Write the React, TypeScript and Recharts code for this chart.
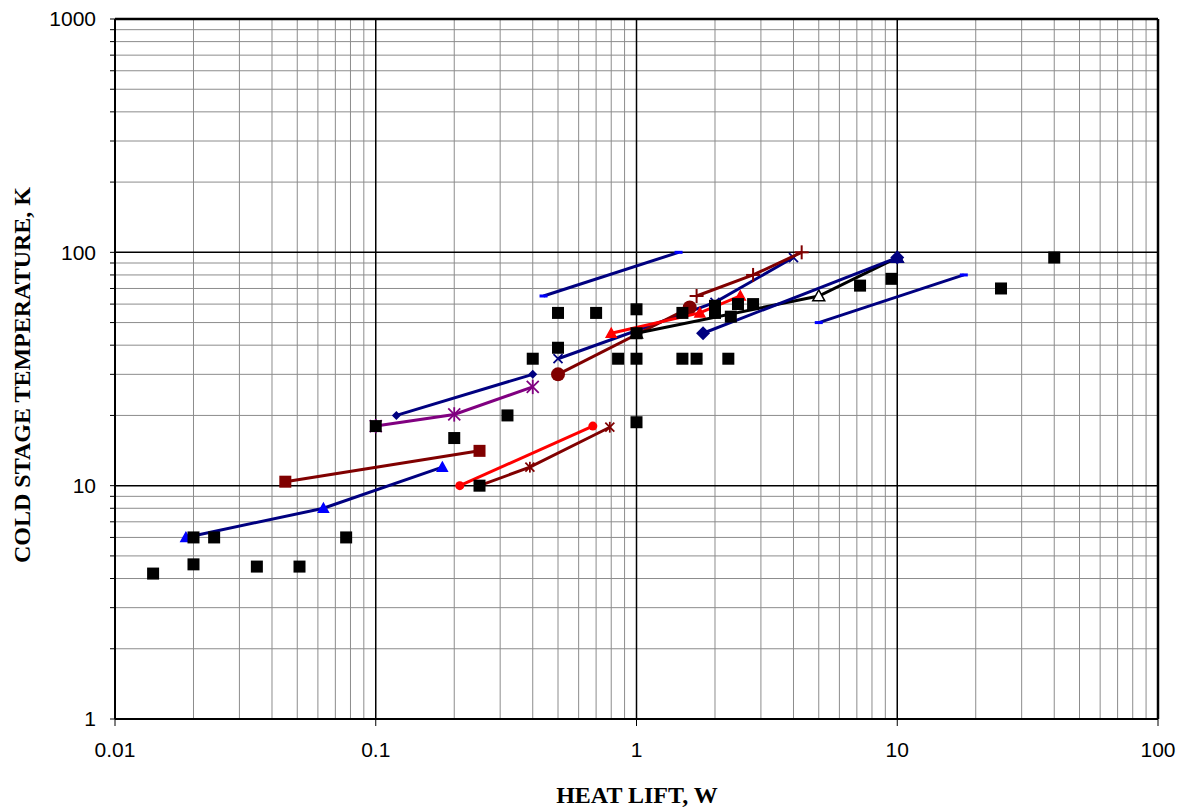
import React from 'react'
import { ScatterChart, Scatter, XAxis, YAxis, ReferenceLine } from 'recharts'

// heat lift (W) vs cold stage temperature (K)
const blackSquares = [
  [0.014, 4.2], [0.02, 6], [0.02, 4.6], [0.024, 6], [0.035, 4.5], [0.051, 4.5],
  [0.077, 6], [0.1, 18], [0.2, 16], [0.32, 20], [0.25, 10], [0.4, 35], [0.5, 55],
  [0.5, 39], [0.7, 55], [0.85, 35], [1, 57], [1, 45], [1, 35], [1, 18.7],
  [1.5, 55], [1.5, 35], [1.7, 35], [2.25, 35], [2, 59], [2, 55], [2.3, 53],
  [2.45, 60], [2.8, 60], [7.2, 72], [9.5, 77], [25, 70], [40, 95],
]
const navyDashA = [[0.44, 65], [1.45, 100]]
const navyDashB = [[5, 50], [18, 80]]
const blueTriangles = [[0.0187, 6], [0.063, 8], [0.18, 12]]
const darkRedSquares = [[0.045, 10.4], [0.25, 14.1]]
const navySmallDiamonds = [[0.12, 20], [0.4, 30]]
const purpleStars = [[0.1, 18], [0.2, 20.2], [0.4, 26.5]]
const redCircles = [[0.21, 10], [0.68, 18]]
const darkRedStars = [[0.25, 10], [0.39, 12], [0.79, 17.8]]
const navyCrosses = [[0.5, 35], [2, 61], [4, 95]]
const darkRedCircles = [[0.5, 30], [1.6, 58]]
const darkRedPlus = [[1.7, 65], [2.8, 80], [4.3, 100]]
const redTriangles = [[0.8, 45], [1.75, 55], [2.5, 65]]
const blackOpenTri = [[1, 45], [5, 65], [10, 95]]
const navyBigDiamonds = [[1.8, 45], [10, 95]]
const navyTriangle = [[10, 95]]

const xTicks = [0.01, 0.1, 1, 10, 100]
const yTicks = [1, 2, 3, 4, 5, 6, 7, 8, 9, 10, 20, 30, 40, 50, 60, 70, 80, 90, 100, 200, 300, 400, 500, 600, 700, 800, 900, 1000]

const pts = (a: number[][]) => a.map(([x, y]) => ({ x, y }))

const minorX: number[] = []
for (const d of [0.01, 0.1, 1, 10]) for (let k = 2; k <= 9; k++) minorX.push(+(d * k).toPrecision(3))
const minorY: number[] = []
for (const d of [1, 10, 100]) for (let k = 2; k <= 9; k++) minorY.push(d * k)

type Kind = 'square' | 'triangle' | 'diamond' | 'circle' | 'star' | 'cross' | 'plus' | 'dash' | 'none'

const marker = (kind: Kind, color: string, s: number, fill?: string) => (p: any) => {
  const { cx, cy } = p
  if (cx == null || cy == null) return <g />
  const f = fill ?? color
  switch (kind) {
    case 'square':
      return <rect x={cx - s} y={cy - s} width={2 * s} height={2 * s} fill={f} />
    case 'triangle':
      return <polygon points={`${cx},${cy - s} ${cx + s},${cy + s * 0.8} ${cx - s},${cy + s * 0.8}`} fill={f} stroke={color} strokeWidth={1.5} />
    case 'diamond':
      return <polygon points={`${cx},${cy - s} ${cx + s},${cy} ${cx},${cy + s} ${cx - s},${cy}`} fill={f} />
    case 'circle':
      return <circle cx={cx} cy={cy} r={s} fill={f} />
    case 'star':
      return (
        <g stroke={color} strokeWidth={1.8}>
          <line x1={cx - s} y1={cy - s} x2={cx + s} y2={cy + s} />
          <line x1={cx - s} y1={cy + s} x2={cx + s} y2={cy - s} />
          <line x1={cx} y1={cy - s * 1.2} x2={cx} y2={cy + s * 1.2} />
        </g>
      )
    case 'cross':
      return (
        <g stroke={color} strokeWidth={1.8}>
          <line x1={cx - s} y1={cy - s} x2={cx + s} y2={cy + s} />
          <line x1={cx - s} y1={cy + s} x2={cx + s} y2={cy - s} />
        </g>
      )
    case 'plus':
      return (
        <g stroke={color} strokeWidth={2}>
          <line x1={cx - s} y1={cy} x2={cx + s} y2={cy} />
          <line x1={cx} y1={cy - s} x2={cx} y2={cy + s} />
        </g>
      )
    case 'dash':
      return <rect x={cx - 4} y={cy - 1.5} width={8} height={3} fill={color} />
    default:
      return <g />
  }
}

const series: { data: number[][]; line: string; kind: Kind; color: string; size: number; fill?: string }[] = [
  { data: navyDashA, line: '#000080', kind: 'dash', color: '#0000FF', size: 4 },
  { data: navyDashB, line: '#000080', kind: 'dash', color: '#0000FF', size: 4 },
  { data: blueTriangles, line: '#000080', kind: 'triangle', color: '#0000FF', size: 5 },
  { data: darkRedSquares, line: '#800000', kind: 'square', color: '#800000', size: 6 },
  { data: navySmallDiamonds, line: '#000080', kind: 'diamond', color: '#000080', size: 4.5 },
  { data: purpleStars, line: '#800080', kind: 'star', color: '#800080', size: 6 },
  { data: redCircles, line: '#FF0000', kind: 'circle', color: '#FF0000', size: 4.5 },
  { data: darkRedStars, line: '#800000', kind: 'star', color: '#800000', size: 4.5 },
  { data: navyCrosses, line: '#000080', kind: 'cross', color: '#000080', size: 4.5 },
  { data: darkRedCircles, line: '#800000', kind: 'circle', color: '#800000', size: 7 },
  { data: darkRedPlus, line: '#800000', kind: 'plus', color: '#800000', size: 7 },
  { data: redTriangles, line: '#FF0000', kind: 'triangle', color: '#FF0000', size: 5 },
  { data: blackOpenTri, line: '#000000', kind: 'triangle', color: '#000000', size: 6, fill: '#FFFFFF' },
  { data: navyBigDiamonds, line: '#000080', kind: 'diamond', color: '#000080', size: 7 },
  { data: navyTriangle, line: 'none', kind: 'triangle', color: '#000080', size: 6, fill: '#000080' },
]

const tickFont = { fontFamily: 'Arial, "Liberation Sans", sans-serif', fontSize: 21, fill: '#000' }
const titleFont: React.CSSProperties = {
  position: 'absolute',
  fontFamily: '"Times New Roman", "Liberation Serif", serif',
  fontWeight: 'bold',
  fontSize: 24,
  whiteSpace: 'nowrap',
  color: '#000',
}

export default function App() {
  return (
    <div style={{ position: 'absolute', left: 0, top: 0, width: 1185, height: 808, background: '#fff' }}>
      <ScatterChart width={1185} height={808} margin={{ top: 19, right: 27, bottom: 49, left: 45 }}>
        <XAxis
          type="number"
          dataKey="x"
          scale="log"
          domain={[0.01, 100]}
          ticks={xTicks}
          allowDataOverflow
          height={40}
          tickSize={7}
          tickMargin={16}
          tick={tickFont}
          tickFormatter={(v: number) => String(v)}
          stroke="#000"
          axisLine={{ stroke: '#000', strokeWidth: 2 }}
        />
        <YAxis
          type="number"
          dataKey="y"
          scale="log"
          domain={[1, 1000]}
          ticks={yTicks}
          allowDataOverflow
          width={70}
          tickSize={5}
          tickMargin={14}
          interval={0}
          tick={tickFont}
          tickFormatter={(v: number) => ([1, 10, 100, 1000].includes(v) ? String(v) : '')}
          stroke="#000"
          axisLine={{ stroke: '#000', strokeWidth: 2 }}
        />
        {minorX.map((v) => (
          <ReferenceLine key={'mx' + v} x={v} stroke="#8c8c8c" strokeWidth={1} />
        ))}
        {minorY.map((v) => (
          <ReferenceLine key={'my' + v} y={v} stroke="#8c8c8c" strokeWidth={1} />
        ))}
        {[0.1, 1, 10].map((v) => (
          <ReferenceLine key={'Mx' + v} x={v} stroke="#000" strokeWidth={1.5} />
        ))}
        {[10, 100].map((v) => (
          <ReferenceLine key={'My' + v} y={v} stroke="#000" strokeWidth={1.5} />
        ))}
        <ReferenceLine x={100} stroke="#000" strokeWidth={2.5} />
        <ReferenceLine y={1000} stroke="#000" strokeWidth={2.5} />
        {series.map((s, i) => (
          <Scatter
            key={i}
            data={pts(s.data)}
            line={s.line === 'none' ? false : { stroke: s.line, strokeWidth: 3 }}
            lineType="joint"
            shape={marker(s.kind, s.color, s.size, s.fill)}
            isAnimationActive={false}
          />
        ))}
        <Scatter data={pts(blackSquares)} shape={marker('square', '#000', 6)} isAnimationActive={false} />
      </ScatterChart>
      <div style={{ ...titleFont, left: 637, top: 782, transform: 'translateX(-50%)' }}>HEAT LIFT, W</div>
      <div style={{ ...titleFont, left: 22, top: 375, transform: 'translate(-50%, -50%) rotate(-90deg)' }}>
        COLD STAGE TEMPERATURE, K
      </div>
    </div>
  )
}
